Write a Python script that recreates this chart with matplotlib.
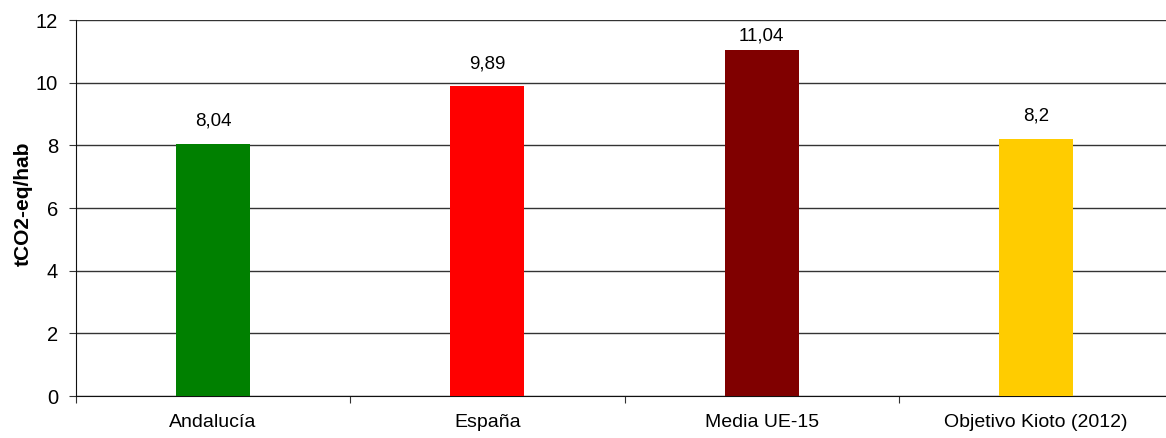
import matplotlib.pyplot as plt

categories = ['Andalucía', 'España', 'Media UE-15', 'Objetivo Kioto (2012)']
values = [8.04, 9.89, 11.04, 8.2]
value_labels = ['8,04', '9,89', '11,04', '8,2']
colors = ['#008000', '#ff0000', '#800000', '#ffcc00']

plt.rcParams['font.family'] = ['Liberation Sans', 'DejaVu Sans']

W, H = 1166, 438
fig = plt.figure(figsize=(W / 100, H / 100), dpi=100)
ax = fig.add_axes([76 / W, 42 / H, (1173 - 76) / W, (396 - 20) / H])

x = range(len(categories))
ax.bar(x, values, width=0.27, color=colors, zorder=3)

# labels sit above the bar, but are kept inside the plot area
for xi, v, lab in zip(x, values, value_labels):
    ax.text(xi, min(v + 0.45, 11.23), lab, ha='center', va='bottom', fontsize=13.5)

ax.set_xlim(-0.5, 3.5)
ax.set_ylim(0, 12)
ax.set_yticks(range(0, 13, 2))
ax.yaxis.grid(True, color='#333333', linewidth=1)
ax.set_axisbelow(True)

ax.set_xticks([-0.5, 0.5, 1.5, 2.5, 3.5])
ax.set_xticklabels([])
ax.set_xticks(list(x), minor=True)
ax.set_xticklabels(categories, minor=True, fontsize=14)
ax.tick_params(axis='x', which='minor', length=0, pad=13)
ax.tick_params(axis='x', which='major', length=5, color='#333333')
ax.tick_params(axis='y', length=5, labelsize=14.5, pad=8, color='#333333')

for s in ['top', 'right']:
    ax.spines[s].set_visible(False)
ax.spines['left'].set_color('#111111')
ax.spines['bottom'].set_color('#111111')

ax.set_ylabel('tCO2-eq/hab', fontsize=15, fontweight='bold')
ax.yaxis.set_label_coords(-0.039, 0.51)

fig.savefig('out.png', dpi=100)
